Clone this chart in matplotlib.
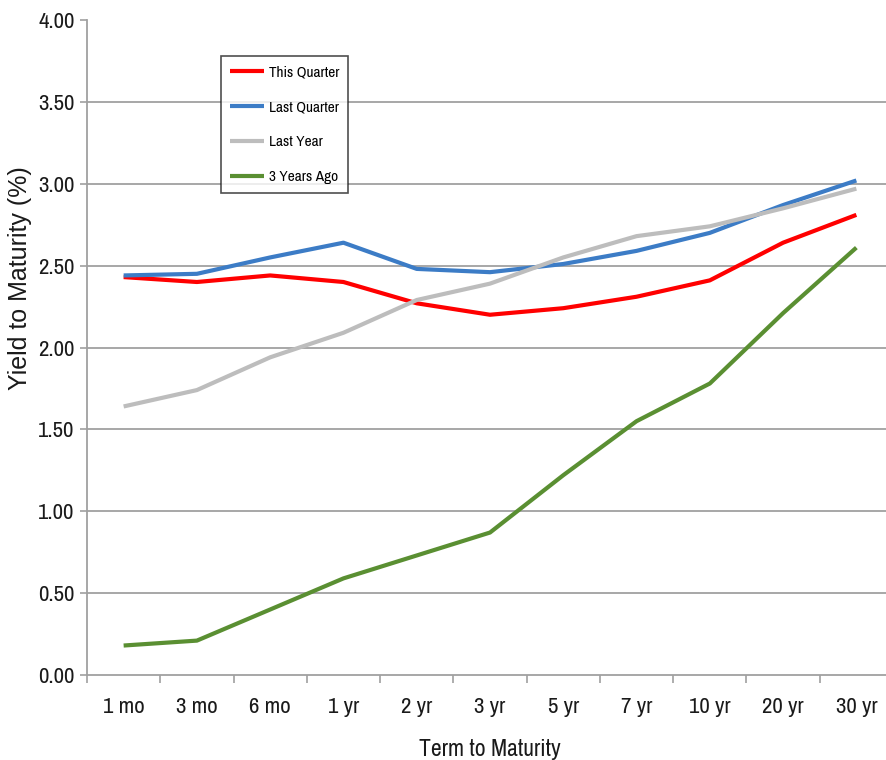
import matplotlib
matplotlib.use("Agg")
import matplotlib.pyplot as plt

# 폰트 설정: 좁은 글꼴 + 대체 글꼴
plt.rcParams['font.family'] = ['Archivo Narrow', 'Liberation Sans', 'DejaVu Sans']

terms = ["1 mo", "3 mo", "6 mo", "1 yr", "2 yr", "3 yr", "5 yr", "7 yr", "10 yr", "20 yr", "30 yr"]
this_quarter = [2.43, 2.40, 2.44, 2.40, 2.27, 2.20, 2.24, 2.31, 2.41, 2.64, 2.81]
last_quarter = [2.44, 2.45, 2.55, 2.64, 2.48, 2.46, 2.51, 2.59, 2.70, 2.87, 3.02]
last_year = [1.64, 1.74, 1.94, 2.09, 2.29, 2.39, 2.55, 2.68, 2.74, 2.85, 2.97]
three_years_ago = [0.18, 0.21, 0.40, 0.59, 0.73, 0.87, 1.22, 1.55, 1.78, 2.21, 2.61]

series = [
    ("This Quarter", this_quarter, "#FF0000"),
    ("Last Quarter", last_quarter, "#3C7CC6"),
    ("Last Year", last_year, "#BDBDBD"),
    ("3 Years Ago", three_years_ago, "#5A8F32"),
]

fig = plt.figure(figsize=(8.86, 7.6), dpi=100)
ax = fig.add_axes([87 / 886, 85 / 760, 806 / 886, 655 / 760])

x = list(range(len(terms)))
for name, vals, color in series:
    ax.plot(x, vals, color=color, lw=3, label=name, solid_capstyle='butt')

ax.set_xlim(-0.5, len(terms) - 0.5)
ax.set_ylim(0, 4)
yticks = [i * 0.5 for i in range(9)]
ax.set_yticks(yticks)
ax.set_yticklabels([f"{v:.2f}" for v in yticks])
ax.set_xticks(x)
ax.set_xticklabels(terms)
ax.set_xticks([i - 0.5 for i in range(len(terms) + 1)], minor=True)

ax.tick_params(axis='x', which='major', length=0, labelsize=16.5, pad=16, colors='#1a1a1a')
ax.tick_params(axis='x', which='minor', length=6, width=1.2, color='#A0A0A0')
ax.tick_params(axis='y', length=5, width=1.2, color='#A0A0A0', labelsize=16.5, pad=4, labelcolor='#1a1a1a')

# 가로 눈금선 (맨 위 4.00 제외)
for v in yticks[1:-1]:
    ax.axhline(v, color='#A0A0A0', lw=1.3, zorder=0)

for s in ['top', 'right']:
    ax.spines[s].set_visible(False)
for s in ['left', 'bottom']:
    ax.spines[s].set_color('#A0A0A0')
    ax.spines[s].set_linewidth(1.3)

ax.set_xlabel("Term to Maturity", fontsize=17, labelpad=16, color='#1a1a1a')
ax.set_ylabel("Yield to Maturity (%)", fontsize=18, family=['Liberation Sans', 'DejaVu Sans'],
              color='#1a1a1a')
ax.yaxis.set_label_coords(-55 / 806, (675 - 278) / 655)

leg = ax.legend(loc='upper left', bbox_to_anchor=(221 / 886, 1 - 56 / 760),
                bbox_transform=fig.transFigure, borderaxespad=0, frameon=True,
                fancybox=False, fontsize=11, handlelength=2.2, labelspacing=1.37,
                handletextpad=0.33, borderpad=0.6)
leg.get_frame().set_edgecolor('#222222')
leg.get_frame().set_linewidth(1.2)

fig.savefig("out.png", dpi=100)
